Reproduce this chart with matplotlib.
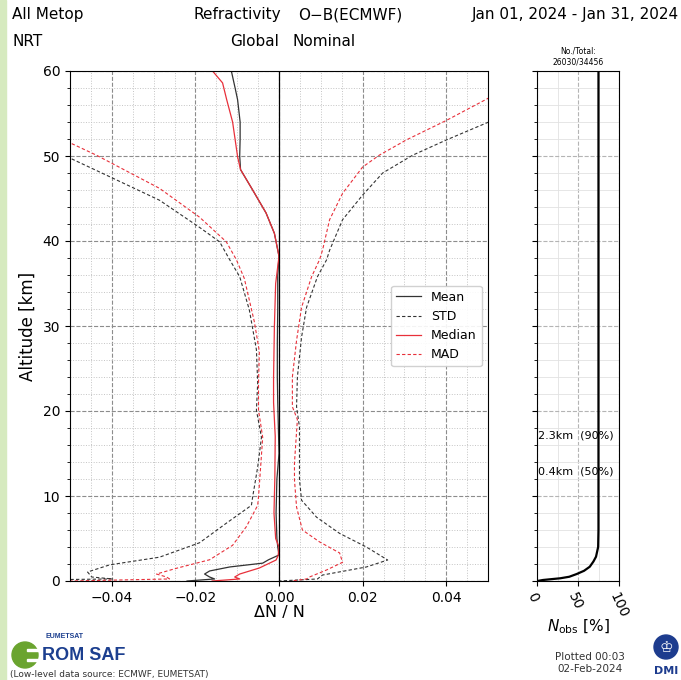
import matplotlib
matplotlib.use("Agg")
import matplotlib.pyplot as plt
from matplotlib.patches import Rectangle, Circle
from matplotlib.ticker import MultipleLocator

# O-B refractivity statistics profiles (altitude in km, dN/N)
mean_alt = [60, 58, 56.6, 54, 52, 50, 48.4, 46.0, 43.3, 40.9, 38.2, 36, 32, 28, 24, 21, 15, 12, 8, 5,
            4, 3.06, 2.5, 2.1, 1.65, 1.18, 0.82, 0.47, 0.24, 0]
mean_val = [-0.0114, -0.0105, -0.0099, -0.0093, -0.0093, -0.0094, -0.0092, -0.0063, -0.0031, -0.0011,
            0.0, -0.0003, -0.0003, -0.0004, -0.0004, -0.0003, 0.0, -0.0005, -0.0007, -0.0005,
            -0.0003, 0.0, -0.0025, -0.0039, -0.0118, -0.0166, -0.0178, -0.0166, -0.0154, -0.022]

median_alt = [60, 58.6, 56.6, 54, 49.9, 48.4, 46.0, 43.3, 40.9, 38.2, 35, 30, 24, 21, 17, 12, 8, 5,
              4, 3, 2.47, 1.53, 0.82, 0.47, 0.24, 0]
median_val = [-0.0159, -0.0135, -0.0125, -0.0111, -0.0099, -0.0092, -0.0063, -0.0031, -0.0011, 0.0,
              -0.0008, -0.0011, -0.0013, -0.0013, -0.0009, -0.0010, -0.0012, -0.0008,
              0.0, -0.0002, -0.0007, -0.0047, -0.0094, -0.0106, -0.0094, -0.016]

std_lo_alt = [50.5, 49.5, 47.4, 44.8, 41.6, 39.9, 37.8, 35.8, 31.9, 27.2, 23.3, 20.1, 16.9, 13.4, 9.9,
              8.9, 6.8, 4.5, 2.8, 1.9, 1.06, 0.47, 0.24, 0]
std_lo_val = [-0.0532, -0.0489, -0.0398, -0.0286, -0.019, -0.0142, -0.0118, -0.0094, -0.0071, -0.0054,
              -0.0051, -0.0054, -0.0042, -0.0051, -0.0063, -0.0066, -0.0126, -0.019, -0.0286, -0.0405,
              -0.0458, -0.0448, -0.0398, -0.08]

std_hi_alt = [54.5, 53.9, 51.9, 50.1, 48.0, 45.4, 42.5, 38.9, 37.8, 35.8, 32.2, 28.7, 24.0, 20.5, 18.1,
              13.9, 11.9, 9.5, 7.5, 5.6, 4.0, 2.47, 1.65, 0.7, 0.24, 0]
std_hi_val = [0.0526, 0.0497, 0.0401, 0.032, 0.0248, 0.02, 0.0152, 0.0121, 0.0114, 0.0092, 0.0066,
              0.0054, 0.0044, 0.0042, 0.0049, 0.0049, 0.0049, 0.0054, 0.009, 0.0145, 0.0209, 0.026,
              0.0209, 0.0104, 0.0092, 0.0]

mad_lo_alt = [52.0, 51.3, 50.1, 46.2, 42.8, 39.9, 37.8, 35.6, 30.5, 27.0, 23.3, 20.1, 16.9, 13.4, 9.9,
              8.9, 6.4, 4.2, 2.5, 1.5, 0.82, 0.47, 0.24, 0]
mad_lo_val = [-0.052, -0.0489, -0.0437, -0.0286, -0.019, -0.0126, -0.0102, -0.0083, -0.0059, -0.0047,
              -0.0049, -0.0049, -0.0039, -0.0044, -0.0049, -0.0051, -0.0078, -0.0111, -0.0166,
              -0.0245, -0.0293, -0.0269, -0.0262, -0.05]

mad_hi_alt = [57.5, 56.7, 54.2, 51.9, 50.1, 48.7, 45.6, 42.5, 38.9, 37.8, 35.8, 32.2, 28.3, 24.0, 20.5,
              19.0, 13.9, 11.9, 8.7, 6.0, 4.6, 3.3, 2.2, 1.3, 0.47, 0.24, 0]
mad_hi_val = [0.0527, 0.0497, 0.0401, 0.0305, 0.024, 0.02, 0.0152, 0.0121, 0.0104, 0.0097, 0.0078,
              0.0054, 0.0042, 0.0032, 0.0032, 0.0044, 0.0037, 0.0037, 0.0042, 0.0056, 0.0097, 0.0145,
              0.0152, 0.0114, 0.0073, 0.0066, 0.003]

# fraction of profiles reaching each altitude
nobs_alt = [0, 0.12, 0.32, 0.5, 0.82, 1.2, 1.68, 2.3, 2.86, 4.0, 6.0, 60]
nobs_pct = [0, 7, 28, 39, 48, 57, 64, 68.5, 71.6, 74.2, 74.6, 74.6]

W, H = 681, 680
fig = plt.figure(figsize=(W / 100, H / 100), dpi=100)


def fx(px):
    return px / W


def fy(py):
    return 1 - py / H


# main panel
ax = fig.add_axes([fx(70), fy(581), fx(488) - fx(70), fy(71) - fy(581)])
ax.plot(mean_val, mean_alt, color="#333333", lw=0.9, label="Mean")
ax.plot(std_lo_val, std_lo_alt, color="#333333", lw=0.8, ls=(0, (3, 2)), label="STD")
ax.plot(median_val, median_alt, color="#e8303a", lw=0.9, label="Median")
ax.plot(mad_lo_val, mad_lo_alt, color="#e8303a", lw=0.8, ls=(0, (3, 2)), label="MAD")
ax.plot(std_hi_val, std_hi_alt, color="#333333", lw=0.8, ls=(0, (3, 2)))
ax.plot(mad_hi_val, mad_hi_alt, color="#e8303a", lw=0.8, ls=(0, (3, 2)))
ax.axvline(0, color="black", lw=0.9)

ax.set_xlim(-0.05, 0.05)
ax.set_ylim(0, 60)
ax.xaxis.set_major_locator(MultipleLocator(0.02))
ax.xaxis.set_minor_locator(MultipleLocator(0.005))
ax.yaxis.set_major_locator(MultipleLocator(10))
ax.yaxis.set_minor_locator(MultipleLocator(2))
ax.tick_params(which="minor", bottom=False)
ax.grid(which="major", color="#8c8c8c", ls="--", lw=0.8)
ax.grid(which="minor", color="#c4c4c4", ls=":", lw=0.7)
ax.set_xticklabels([f"{v:.2f}".replace("-", "\u2212") for v in ax.get_xticks()])
ax.tick_params(labelsize=10)
ax.set_xlabel("\u0394N / N", fontsize=11.5, labelpad=0.5)
ax.set_ylabel("Altitude [km]", fontsize=12)
ax.legend(loc="center right", fontsize=9, framealpha=0.9)

# number of observations panel
ax2 = fig.add_axes([fx(537.3), fy(581), fx(619.3) - fx(537.3), fy(71) - fy(581)])
ax2.plot(nobs_pct, nobs_alt, color="black", lw=1.6)
ax2.set_xlim(0, 100)
ax2.set_ylim(0, 60)
ax2.set_xticks([0, 50, 100])
ax2.xaxis.set_minor_locator(MultipleLocator(25))
ax2.yaxis.set_major_locator(MultipleLocator(10))
ax2.yaxis.set_minor_locator(MultipleLocator(2))
ax2.tick_params(which="minor", bottom=False)
ax2.set_yticklabels([])
ax2.grid(which="major", color="#b4b4b4", ls="--", lw=0.8)
ax2.grid(which="minor", color="#e2e2e2", ls="-", lw=0.6)
for lab in ax2.get_xticklabels():
    lab.set_rotation(-65)
    lab.set_ha("left")
    lab.set_va("top")
    lab.set_rotation_mode("anchor")
ax2.tick_params(labelsize=10)
ax2.set_xlabel("$N_{\\rm obs}$ [%]", fontsize=11, labelpad=-2)
ax2.set_title("No./Total:\n26030/34456", fontsize=5.5, pad=5)
ax2.text(1, 17.1, "2.3km  (90%)", fontsize=8, va="center")
ax2.text(1, 12.9, "0.4km  (50%)", fontsize=8, va="center")

# header
fig.text(fx(12), fy(15), "All Metop", fontsize=11, va="center")
fig.text(fx(12), fy(42), "NRT", fontsize=11, va="center")
fig.text(fx(281), fy(15), "Refractivity", fontsize=11, va="center", ha="right")
fig.text(fx(298), fy(15), "O\u2212B(ECMWF)", fontsize=11, va="center")
fig.text(fx(279), fy(42), "Global", fontsize=11, va="center", ha="right")
fig.text(fx(292), fy(42), "Nominal", fontsize=11, va="center")
fig.text(fx(679), fy(15), "Jan 01, 2024 - Jan 31, 2024", fontsize=11, va="center", ha="right")

# footer: logos and credits
fig.patches.append(Rectangle((0, 0), fx(6), 1, transform=fig.transFigure,
                             color="#d6eabf", zorder=0))
fig.patches.append(Circle((fx(25), fy(655)), fx(13), transform=fig.transFigure,
                          color="#6aa42f", zorder=1))
for yy in (650, 660):
    fig.patches.append(Rectangle((fx(27), fy(yy) - 0.002), fx(14), 0.004,
                                 transform=fig.transFigure, color="white", zorder=2))
fig.text(fx(45), fy(637), "EUMETSAT", fontsize=5, fontweight="bold", color="#1c3f8f",
         va="center", family="Liberation Sans")
fig.text(fx(42), fy(656), "ROM SAF", fontsize=13, fontweight="bold", color="#1c3f8f",
         va="center", family="Liberation Sans")
fig.text(fx(10), fy(674), "(Low-level data source: ECMWF, EUMETSAT)", fontsize=6.5,
         color="#333333", va="center")
fig.text(fx(590), fy(663), "Plotted 00:03\n02-Feb-2024", fontsize=7.5, ha="center",
         va="center", color="#333333")
fig.patches.append(Circle((fx(666), fy(647)), fx(12), transform=fig.transFigure,
                          color="#1d3c8e", zorder=1))
fig.text(fx(666), fy(647), "\u2654", fontsize=11, color="white", ha="center", va="center", zorder=3)
fig.text(fx(666), fy(671), "DMI", fontsize=8, fontweight="bold", color="#1d3c8e",
         ha="center", va="center")

fig.savefig("out.png", dpi=100)
